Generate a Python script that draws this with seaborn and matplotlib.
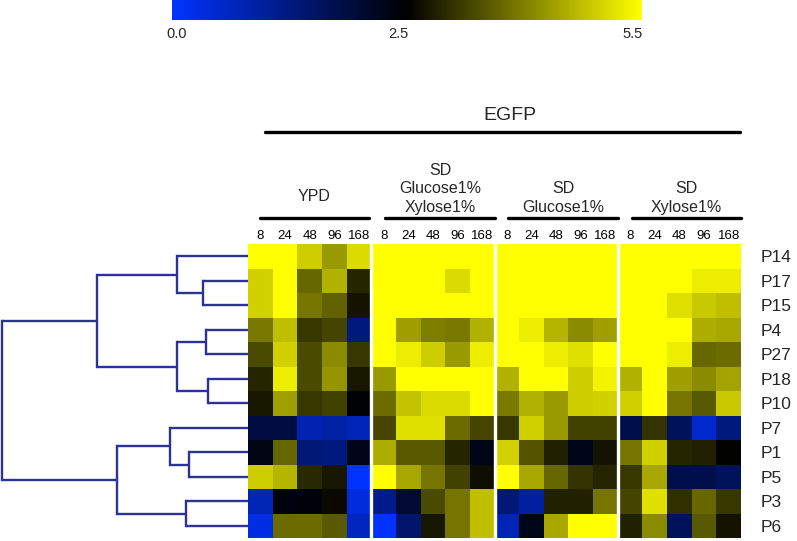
import numpy as np
import pandas as pd
import matplotlib
matplotlib.use("Agg")
import matplotlib.pyplot as plt
from matplotlib.colors import LinearSegmentedColormap, Normalize
from matplotlib.cm import ScalarMappable
from matplotlib.lines import Line2D
from matplotlib.transforms import ScaledTranslation
import seaborn as sns

sns.set_theme(style="white")
plt.rcParams['font.family'] = ['Liberation Sans', 'DejaVu Sans']

# ---------------- data ----------------
rows = ["P14", "P17", "P15", "P4", "P27", "P18", "P10", "P7", "P1", "P5", "P3", "P6"]
times = ["8", "24", "48", "96", "168"]
groups = ["YPD", "SD\nGlucose1%\nXylose1%", "SD\nGlucose1%", "SD\nXylose1%"]

ypd = [
    [5.5, 5.5, 4.95, 4.4, 5.1],
    [5.0, 5.5, 3.85, 4.65, 3.15],
    [5.0, 5.5, 4.0, 3.8, 2.95],
    [4.05, 4.8, 3.35, 3.5, 1.4],
    [3.55, 5.0, 3.55, 4.25, 3.35],
    [3.15, 5.3, 3.55, 4.35, 3.0],
    [3.0, 4.45, 3.35, 3.45, 2.7],
    [2.05, 2.05, 0.85, 1.0, 0.8],
    [2.55, 3.85, 1.5, 1.4, 2.5],
    [4.95, 4.7, 3.2, 3.0, 0.0],
    [0.8, 2.6, 2.65, 2.85, 0.4],
    [0.3, 3.9, 3.9, 3.7, 0.7],
]
sd_glu_xyl = [
    [5.5, 5.5, 5.5, 5.5, 5.5],
    [5.5, 5.5, 5.5, 5.1, 5.5],
    [5.5, 5.5, 5.5, 5.5, 5.5],
    [5.5, 4.45, 4.1, 4.05, 4.65],
    [5.5, 5.3, 4.95, 4.4, 5.3],
    [4.4, 5.5, 5.5, 5.5, 5.5],
    [3.9, 4.85, 5.1, 5.1, 5.5],
    [3.5, 5.15, 5.15, 3.9, 3.5],
    [4.6, 3.7, 3.7, 3.15, 2.5],
    [5.5, 4.55, 4.0, 3.45, 2.9],
    [1.25, 2.2, 3.55, 4.0, 4.8],
    [0.05, 1.6, 3.0, 4.0, 4.8],
]
sd_glu = [
    [5.5, 5.5, 5.5, 5.5, 5.5],
    [5.5, 5.5, 5.5, 5.5, 5.5],
    [5.5, 5.5, 5.5, 5.5, 5.5],
    [5.5, 5.3, 4.7, 4.25, 4.45],
    [5.5, 5.5, 5.3, 5.15, 5.5],
    [4.65, 5.5, 5.5, 4.95, 5.35],
    [4.05, 4.65, 4.4, 4.95, 5.0],
    [3.35, 5.0, 4.4, 3.45, 3.45],
    [5.0, 3.65, 3.1, 2.5, 2.95],
    [5.5, 4.55, 3.85, 3.3, 3.15],
    [1.5, 1.05, 3.1, 3.1, 4.0],
    [0.8, 2.5, 4.55, 5.5, 5.5],
]
sd_xyl = [
    [5.5, 5.5, 5.5, 5.5, 5.5],
    [5.5, 5.5, 5.5, 5.3, 5.3],
    [5.5, 5.5, 5.15, 4.9, 4.8],
    [5.5, 5.5, 5.5, 4.6, 4.55],
    [5.5, 5.5, 5.3, 3.85, 3.9],
    [4.65, 5.5, 4.45, 4.25, 4.5],
    [5.0, 5.5, 4.0, 3.7, 4.9],
    [1.95, 3.3, 1.8, 0.55, 1.4],
    [4.0, 5.0, 3.15, 3.1, 2.75],
    [3.35, 4.55, 1.95, 1.95, 1.8],
    [3.5, 5.15, 3.25, 3.85, 3.35],
    [3.1, 4.25, 1.8, 3.7, 2.95],
]

# dendrogram merges: (child_a, child_b, height); children are leaf names or merge indices
merges = [
    ("P17", "P15", 45),   # 0
    ("P14", 0, 71),       # 1
    ("P4", "P27", 42),    # 2
    ("P18", "P10", 40),   # 3
    (2, 3, 71),           # 4
    (1, 4, 151),          # 5
    ("P1", "P5", 59),     # 6
    ("P7", 6, 78),        # 7
    ("P3", "P6", 62),     # 8
    (7, 8, 131),          # 9
    (5, 9, 246),          # 10
]

cbar_ticks = [0.0, 2.5, 5.5]

# ---------------- figure ----------------
W, H = 797, 541
fig = plt.figure(figsize=(W / 100, H / 100), dpi=100)

def fx(x):
    return x / W

def fy(y):
    return 1 - y / H

hm_left, hm_right, hm_top, hm_bot = 248, 741, 244, 538
ax = fig.add_axes([fx(hm_left), fy(hm_bot), (hm_right - hm_left) / W, (hm_bot - hm_top) / H])

cmap = LinearSegmentedColormap.from_list(
    "byk", [(0.0, (0.0, 0.2, 1.0)), (0.5, (0.0, 0.0, 0.0)), (1.0, (1.0, 1.0, 0.0))])
vmin, vmax = 0.0, 5.5

data = np.hstack([np.array(ypd), np.array(sd_glu_xyl), np.array(sd_glu), np.array(sd_xyl)])
cols = [f"{g.split(chr(10))[-1]}_{t}" for g in groups for t in times]
df = pd.DataFrame(data, index=rows, columns=cols)

sns.heatmap(df, ax=ax, cmap=cmap, vmin=vmin, vmax=vmax, cbar=False,
            xticklabels=False, yticklabels=rows)
for xv in [5, 10, 15]:
    ax.axvline(xv, color="white", lw=2.4)
ax.yaxis.tick_right()
ax.tick_params(axis="y", length=0, pad=14, labelsize=12.5, rotation=0)
for lbl in ax.get_yticklabels():
    lbl.set_rotation(0)
ax.set_xlabel("")
ax.set_ylabel("")

# column (time) labels above the heatmap
for gi in range(len(groups)):
    for ti, t in enumerate(times):
        ax.text(gi * 5 + ti + 0.5, -0.1, t, ha="center", va="bottom", fontsize=9.5,
                color="black", transform=ax.transData, clip_on=False)

# group underline and labels
group_lines = [(260, 369), (385, 495), (508, 618), (632, 741)]
for (x0, x1), g in zip(group_lines, groups):
    fig.add_artist(Line2D([fx(x0), fx(x1)], [fy(218), fy(218)], lw=2.4, color="black"))
    if "\n" in g:
        fig.text(fx((x0 + x1) / 2), fy(215), g, ha="center", va="bottom",
                 fontsize=11.5, linespacing=1.3)
    else:
        fig.text(fx((x0 + x1) / 2), fy(197), g, ha="center", va="center",
                 fontsize=11.5)

# EGFP header
fig.add_artist(Line2D([fx(265), fx(740)], [fy(132), fy(132)], lw=2.4, color="black"))
fig.text(fx(510), fy(115), "EGFP", ha="center", va="center", fontsize=14)

# dendrogram
dax = fig.add_axes([0, fy(hm_bot), hm_left / W, (hm_bot - hm_top) / H])
dax.set_xlim(hm_left, 0)
dax.set_ylim(len(rows), 0)
dax.axis("off")
dcol = (0.17, 0.2, 0.58)
pos = {r: (i + 0.5, 0.0) for i, r in enumerate(rows)}
for k, (a, b, h) in enumerate(merges):
    ya, ha_ = pos[a]
    yb, hb = pos[b]
    dax.plot([ha_, h], [ya, ya], color=dcol, lw=1.7, solid_capstyle="butt")
    dax.plot([hb, h], [yb, yb], color=dcol, lw=1.7, solid_capstyle="butt")
    dax.plot([h, h], [ya, yb], color=dcol, lw=1.7, solid_capstyle="projecting")
    pos[k] = ((ya + yb) / 2, h)

# colorbar
cax = fig.add_axes([fx(172), fy(20), (642 - 172) / W, 20 / H])
sm = ScalarMappable(norm=Normalize(vmin, vmax), cmap=cmap)
cb = fig.colorbar(sm, cax=cax, orientation="horizontal", ticks=cbar_ticks)
cb.outline.set_visible(False)
cb.ax.set_xticklabels([f"{t:.1f}" for t in cbar_ticks])
cb.ax.tick_params(length=0, pad=5, labelsize=10.5)
for lbl, dx in zip(cb.ax.get_xticklabels(), [5, 13, -9]):
    lbl.set_transform(lbl.get_transform() + ScaledTranslation(dx / 100, 0, fig.dpi_scale_trans))

fig.savefig("out.png", dpi=100)
